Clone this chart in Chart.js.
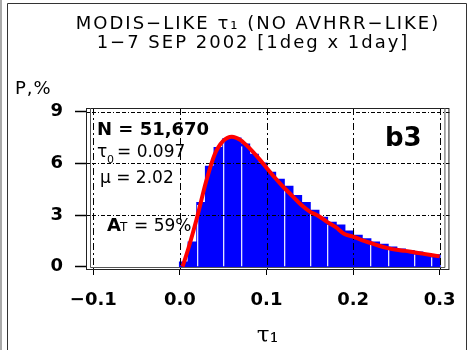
<!DOCTYPE html>
<html>
<head>
<meta charset="utf-8">
<script src="https://cdn.jsdelivr.net/npm/chart.js@4"></script>
<style>
  html, body { margin: 0; padding: 0; background: #fff; }
</style>
</head>
<body>
<canvas id="chart" width="471" height="350"></canvas>
<script>
// histogram: bin centres (tau_1) and frequency P, %
const binTau = [0.005, 0.015, 0.025, 0.035, 0.045, 0.055, 0.065, 0.075, 0.085, 0.095,
                0.105, 0.115, 0.125, 0.135, 0.145, 0.155, 0.165, 0.175, 0.185, 0.195,
                0.205, 0.215, 0.225, 0.235, 0.245, 0.255, 0.265, 0.275, 0.285, 0.295];
const binP = [0.25, 1.4, 3.7, 5.8, 6.9, 7.4, 7.45, 7.1, 6.5, 6.0,
              5.45, 5.05, 4.65, 4.1, 3.7, 3.25, 2.85, 2.55, 2.4, 2.05,
              1.8, 1.6, 1.4, 1.28, 1.12, 1.0, 0.92, 0.82, 0.74, 0.66];

// fitted curve (red)
const fitTau = [0.003, 0.010, 0.020, 0.030, 0.040, 0.050, 0.060, 0.070, 0.080, 0.090,
                0.100, 0.110, 0.120, 0.130, 0.140, 0.150, 0.160, 0.170, 0.180, 0.190,
                0.200, 0.210, 0.220, 0.230, 0.240, 0.250, 0.260, 0.270, 0.280, 0.290, 0.300];
const fitP = [0.0, 1.1, 2.9, 4.9, 6.5, 7.3, 7.55, 7.35, 6.9, 6.35,
              5.75, 5.15, 4.6, 4.1, 3.6, 3.2, 2.95, 2.6, 2.3, 1.9,
              1.75, 1.55, 1.38, 1.22, 1.08, 0.98, 0.92, 0.84, 0.76, 0.68, 0.6];

// bins whose left edge shows a thin white seam in the original
const seamBins = [2, 5, 7, 12, 15, 17, 22, 24, 27, 29];

const black = '#000';
const sans = '"DejaVu Sans", sans-serif';

function xLabel(v) {
    if (Math.abs(v) < 1e-9) v = 0;
    return v.toFixed(1).replace('-', '\u2212');
}

// seams + dashed grid drawn over the bars, under the red curve
const gridPlugin = {
    id: 'gridOverBars',
    afterDatasetDraw(chart, args) {
        if (args.meta.type !== 'bar') return;
        const c = chart.ctx;
        const a = chart.chartArea;
        const xs = chart.scales.x;
        const ys = chart.scales.y;
        c.save();

        c.fillStyle = '#e2e2ff';
        seamBins.forEach(i => {
            const bar = args.meta.data[i];
            const left = Math.round(bar.x - bar.width / 2);
            c.fillRect(left, bar.y + 2, 1.3, bar.base - bar.y - 2);
        });

        c.strokeStyle = black;
        c.lineWidth = 1;
        c.setLineDash([7, 3, 2, 3]);
        xs.ticks.forEach(t => {
            const px = Math.round(xs.getPixelForValue(t.value)) + 0.5;
            c.beginPath();
            c.moveTo(px, a.top);
            c.lineTo(px, a.bottom);
            c.stroke();
        });
        c.setLineDash([4, 2, 4, 2, 1, 2]);
        ys.ticks.forEach(t => {
            if (t.value === 0) return;
            const py = Math.round(ys.getPixelForValue(t.value)) + 0.5;
            c.beginPath();
            c.moveTo(a.left, py);
            c.lineTo(a.right, py);
            c.stroke();
        });
        c.restore();
    }
};

const framePlugin = {
    id: 'frameAndText',
    afterDraw(chart) {
        const c = chart.ctx;
        const a = chart.chartArea;
        const ys = chart.scales.y;
        c.save();

        // outer page frame
        c.strokeStyle = '#aaa';
        c.lineWidth = 2;
        c.beginPath(); c.moveTo(1, 0); c.lineTo(1, 350); c.stroke();
        c.strokeStyle = '#333';
        c.lineWidth = 1;
        c.beginPath();
        c.moveTo(7.5, 352); c.lineTo(7.5, 3.5); c.lineTo(466.5, 3.5); c.lineTo(466.5, 352);
        c.stroke();

        // double plot frame
        c.strokeStyle = '#222';
        c.strokeRect(a.left + 0.5, a.top + 0.5, a.width - 1, a.height - 1);
        const y0 = Math.round(ys.getPixelForValue(0)) + 0.5;
        c.strokeStyle = '#555';
        c.beginPath();
        c.moveTo(a.left + 4.5, a.top);
        c.lineTo(a.left + 4.5, y0);
        c.lineTo(a.right - 4.5, y0);
        c.lineTo(a.right - 4.5, a.top);
        c.stroke();

        c.fillStyle = black;
        c.textBaseline = 'alphabetic';

        // title
        c.textAlign = 'center';
        c.font = '18px ' + sans;
        c.letterSpacing = '2px';
        c.fillText('MODIS\u2212LIKE \u03c4\u2081 (NO AVHRR\u2212LIKE)', 258, 29);
        c.fillText('1\u22127 SEP 2002 [1deg x 1day]', 253, 48);

        // y axis name
        c.textAlign = 'left';
        c.letterSpacing = '1px';
        c.font = '18px ' + sans;
        c.fillText('P,%', 15, 94);
        c.letterSpacing = '0px';

        // statistics
        c.font = 'bold 18px ' + sans;
        c.fillText('N = 51,670', 97, 135);

        c.font = '17px ' + sans;
        c.fillText('\u03c4', 97, 157);
        c.font = '11px ' + sans;
        c.fillText('0', 107, 163);
        c.font = '17px ' + sans;
        c.fillText('= 0.097', 117, 157);

        c.fillText('\u03bc = 2.02', 100, 183);

        c.font = 'bold 18px ' + sans;
        c.fillText('A', 107, 231);
        c.font = '12px ' + sans;
        c.fillText('T', 120, 231);
        c.font = '17px ' + sans;
        c.fillText('= 59%', 134, 231);

        c.font = 'bold 26px ' + sans;
        c.fillText('b3', 385, 146);

        c.restore();
    }
};

new Chart(document.getElementById('chart'), {
    type: 'bar',
    data: {
        datasets: [
            {
                type: 'line',
                data: fitTau.map((t, i) => ({ x: t, y: fitP[i] })),
                borderColor: '#ff0000',
                borderWidth: 4,
                pointRadius: 0,
                cubicInterpolationMode: 'monotone',
                fill: false,
                order: 0
            },
            {
                type: 'bar',
                data: binTau.map((t, i) => ({ x: t, y: binP[i] })),
                backgroundColor: '#0000ff',
                borderWidth: 0,
                inflateAmount: 1,
                barPercentage: 1,
                categoryPercentage: 1,
                order: 1
            }
        ]
    },
    options: {
        responsive: false,
        animation: false,
        devicePixelRatio: 1,
        layout: { padding: { top: 108, right: 15, left: 0, bottom: 0 } },
        plugins: {
            legend: { display: false },
            tooltip: { enabled: false },
            title: { display: false }
        },
        scales: {
            x: {
                type: 'linear',
                min: -0.1085,
                max: 0.3113,
                offset: false,
                afterFit: s => { s.height = 80; },
                ticks: {
                    stepSize: 0.1,
                    includeBounds: false,
                    autoSkip: false,
                    maxRotation: 0,
                    padding: 15,
                    color: black,
                    font: { family: sans, size: 18, weight: 'bold' },
                    callback: xLabel
                },
                grid: {
                    offset: false,
                    drawOnChartArea: false,
                    tickLength: 5,
                    tickColor: black,
                    tickWidth: 1
                },
                border: { display: false },
                title: {
                    display: true,
                    text: '\u03c4\u2081',
                    color: black,
                    font: { family: '"DejaVu Serif", serif', size: 23 },
                    padding: { top: 0, bottom: 0 }
                }
            },
            y: {
                min: -0.19,
                max: 9.215,
                afterFit: s => { s.width = 86; },
                ticks: {
                    stepSize: 3,
                    includeBounds: false,
                    padding: 12,
                    color: black,
                    font: { family: sans, size: 18, weight: 'bold' }
                },
                grid: {
                    drawOnChartArea: false,
                    tickLength: 11,
                    tickColor: black,
                    tickWidth: 1.5
                },
                border: { display: false }
            }
        }
    },
    plugins: [gridPlugin, framePlugin]
});
</script>
</body>
</html>
